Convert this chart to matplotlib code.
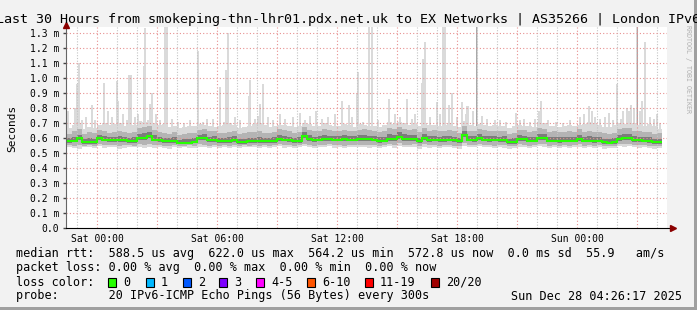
import numpy as np
import matplotlib
matplotlib.use("Agg")
import matplotlib.pyplot as plt
from matplotlib.patches import Rectangle

# ---- data (ms), 15 minute steps starting Fri 22:30 (hour -1.5 relative to Sat 00:00)
step_h = 0.25
start_h = -1.5

med = [0.580, 0.582, 0.598, 0.571, 0.572, 0.571, 0.600, 0.588, 0.587, 0.586,
       0.588, 0.585, 0.578, 0.579, 0.600, 0.602, 0.611, 0.590, 0.586, 0.578,
       0.577, 0.579, 0.569, 0.568, 0.570, 0.575, 0.598, 0.600, 0.587, 0.586,
       0.578, 0.577, 0.580, 0.587, 0.571, 0.572, 0.578, 0.577, 0.579, 0.578,
       0.577, 0.580, 0.592, 0.590, 0.585, 0.578, 0.580, 0.612, 0.592, 0.587,
       0.588, 0.592, 0.591, 0.590, 0.589, 0.591, 0.590, 0.589, 0.591, 0.592,
       0.591, 0.590, 0.580, 0.582, 0.594, 0.593, 0.607, 0.592, 0.591, 0.592,
       0.578, 0.600, 0.587, 0.588, 0.586, 0.587, 0.588, 0.586, 0.578, 0.620,
       0.588, 0.587, 0.600, 0.590, 0.587, 0.588, 0.586, 0.587, 0.571, 0.572,
       0.592, 0.591, 0.582, 0.583, 0.600, 0.598, 0.582, 0.583, 0.581, 0.582,
       0.583, 0.582, 0.594, 0.582, 0.583, 0.581, 0.582, 0.571, 0.570, 0.572,
       0.592, 0.600, 0.601, 0.585, 0.584, 0.582, 0.580, 0.571, 0.572]

lo = [0.540, 0.535, 0.530, 0.538, 0.542, 0.536, 0.545, 0.532, 0.540, 0.538,
      0.528, 0.536, 0.541, 0.537, 0.540, 0.532, 0.538, 0.535, 0.542, 0.536,
      0.530, 0.539, 0.534, 0.540, 0.536, 0.531, 0.541, 0.537, 0.533, 0.540,
      0.536, 0.542, 0.535, 0.538, 0.531, 0.540, 0.537, 0.543, 0.536, 0.539,
      0.534, 0.540, 0.545, 0.536, 0.541, 0.533, 0.538, 0.547, 0.540, 0.535,
      0.541, 0.538, 0.544, 0.536, 0.540, 0.534, 0.542, 0.537, 0.541, 0.539,
      0.536, 0.542, 0.533, 0.539, 0.544, 0.536, 0.548, 0.540, 0.537, 0.543,
      0.530, 0.541, 0.536, 0.540, 0.534, 0.539, 0.542, 0.535, 0.529, 0.546,
      0.538, 0.541, 0.544, 0.537, 0.540, 0.535, 0.539, 0.536, 0.530, 0.534,
      0.542, 0.538, 0.535, 0.540, 0.546, 0.541, 0.533, 0.538, 0.536, 0.540,
      0.534, 0.539, 0.543, 0.536, 0.540, 0.533, 0.537, 0.529, 0.532, 0.535,
      0.544, 0.541, 0.546, 0.538, 0.536, 0.540, 0.534, 0.530, 0.533]

mlo = [0.553, 0.550, 0.556, 0.549, 0.552, 0.548, 0.560, 0.551, 0.554, 0.552,
       0.547, 0.551, 0.553, 0.550, 0.558, 0.556, 0.560, 0.552, 0.555, 0.550,
       0.546, 0.552, 0.547, 0.549, 0.551, 0.548, 0.557, 0.556, 0.550, 0.553,
       0.549, 0.554, 0.550, 0.553, 0.546, 0.551, 0.550, 0.555, 0.549, 0.552,
       0.548, 0.553, 0.560, 0.551, 0.554, 0.547, 0.551, 0.563, 0.556, 0.550,
       0.555, 0.554, 0.558, 0.551, 0.555, 0.550, 0.556, 0.552, 0.555, 0.554,
       0.551, 0.556, 0.548, 0.553, 0.559, 0.552, 0.564, 0.555, 0.552, 0.557,
       0.546, 0.558, 0.551, 0.554, 0.549, 0.553, 0.556, 0.550, 0.545, 0.565,
       0.553, 0.555, 0.560, 0.552, 0.554, 0.550, 0.553, 0.551, 0.545, 0.548,
       0.557, 0.553, 0.549, 0.554, 0.561, 0.557, 0.548, 0.552, 0.550, 0.554,
       0.549, 0.553, 0.558, 0.550, 0.554, 0.548, 0.552, 0.544, 0.546, 0.549,
       0.559, 0.560, 0.562, 0.553, 0.551, 0.554, 0.549, 0.545, 0.547]

dlo = [0.569, 0.571, 0.584, 0.561, 0.562, 0.560, 0.587, 0.577, 0.576, 0.575,
       0.576, 0.574, 0.567, 0.568, 0.588, 0.590, 0.598, 0.578, 0.575, 0.567,
       0.566, 0.568, 0.558, 0.557, 0.559, 0.564, 0.585, 0.588, 0.576, 0.575,
       0.567, 0.566, 0.569, 0.576, 0.560, 0.561, 0.567, 0.566, 0.568, 0.567,
       0.566, 0.569, 0.580, 0.579, 0.574, 0.567, 0.569, 0.598, 0.580, 0.576,
       0.577, 0.580, 0.580, 0.579, 0.578, 0.580, 0.579, 0.578, 0.580, 0.581,
       0.580, 0.579, 0.569, 0.571, 0.582, 0.582, 0.594, 0.581, 0.580, 0.581,
       0.567, 0.588, 0.576, 0.577, 0.575, 0.576, 0.577, 0.575, 0.567, 0.606,
       0.577, 0.576, 0.588, 0.579, 0.576, 0.577, 0.575, 0.576, 0.560, 0.561,
       0.580, 0.580, 0.571, 0.572, 0.588, 0.586, 0.571, 0.572, 0.570, 0.571,
       0.572, 0.571, 0.582, 0.571, 0.572, 0.570, 0.571, 0.560, 0.559, 0.561,
       0.580, 0.588, 0.589, 0.574, 0.573, 0.571, 0.569, 0.560, 0.561]

dhi = [0.600, 0.608, 0.620, 0.592, 0.598, 0.594, 0.622, 0.612, 0.606, 0.610,
       0.614, 0.605, 0.600, 0.604, 0.628, 0.635, 0.640, 0.618, 0.608, 0.600,
       0.598, 0.604, 0.590, 0.592, 0.596, 0.600, 0.622, 0.626, 0.610, 0.612,
       0.600, 0.598, 0.604, 0.612, 0.592, 0.596, 0.600, 0.602, 0.606, 0.600,
       0.598, 0.606, 0.620, 0.616, 0.610, 0.600, 0.606, 0.640, 0.618, 0.610,
       0.612, 0.620, 0.616, 0.614, 0.612, 0.618, 0.614, 0.612, 0.618, 0.620,
       0.616, 0.614, 0.604, 0.610, 0.626, 0.622, 0.638, 0.624, 0.618, 0.622,
       0.602, 0.628, 0.612, 0.614, 0.610, 0.612, 0.616, 0.610, 0.602, 0.645,
       0.614, 0.612, 0.626, 0.616, 0.612, 0.614, 0.610, 0.612, 0.594, 0.598,
       0.618, 0.616, 0.606, 0.608, 0.628, 0.624, 0.606, 0.608, 0.604, 0.606,
       0.608, 0.606, 0.620, 0.606, 0.610, 0.604, 0.606, 0.596, 0.594, 0.598,
       0.620, 0.628, 0.630, 0.612, 0.610, 0.606, 0.604, 0.594, 0.596]

hi = [0.630, 0.645, 0.657, 0.625, 0.637, 0.633, 0.653, 0.647, 0.635, 0.643,
      0.649, 0.637, 0.631, 0.640, 0.665, 0.673, 0.677, 0.651, 0.641, 0.633,
      0.629, 0.637, 0.623, 0.627, 0.633, 0.635, 0.655, 0.661, 0.645, 0.649,
      0.635, 0.631, 0.639, 0.647, 0.625, 0.631, 0.637, 0.641, 0.645, 0.635,
      0.631, 0.641, 0.657, 0.653, 0.645, 0.635, 0.641, 0.675, 0.653, 0.645,
      0.647, 0.657, 0.651, 0.649, 0.645, 0.655, 0.649, 0.645, 0.653, 0.657,
      0.651, 0.649, 0.639, 0.647, 0.665, 0.661, 0.675, 0.661, 0.653, 0.659,
      0.637, 0.665, 0.647, 0.651, 0.645, 0.649, 0.653, 0.645, 0.635, 0.681,
      0.649, 0.647, 0.663, 0.653, 0.647, 0.649, 0.645, 0.647, 0.627, 0.633,
      0.655, 0.651, 0.641, 0.645, 0.665, 0.661, 0.641, 0.645, 0.639, 0.641,
      0.645, 0.641, 0.657, 0.641, 0.647, 0.639, 0.641, 0.631, 0.629, 0.633,
      0.657, 0.665, 0.669, 0.647, 0.645, 0.641, 0.639, 0.629, 0.631]

top = [0.668, 0.690, 0.700, 0.660, 0.676, 0.670, 0.690, 0.700, 0.684, 0.695,
       0.700, 0.680, 0.672, 0.688, 0.715, 0.706, 0.722, 0.700, 0.684, 0.695,
       0.676, 0.682, 0.668, 0.672, 0.678, 0.680, 0.695, 0.690, 0.678, 0.672,
       0.680, 0.686, 0.698, 0.684, 0.668, 0.672, 0.678, 0.692, 0.702, 0.684,
       0.672, 0.680, 0.690, 0.686, 0.678, 0.672, 0.678, 0.700, 0.692, 0.678,
       0.680, 0.702, 0.686, 0.680, 0.678, 0.690, 0.688, 0.676, 0.692, 0.686,
       0.682, 0.678, 0.672, 0.688, 0.706, 0.692, 0.710, 0.700, 0.690, 0.696,
       0.678, 0.698, 0.684, 0.690, 0.680, 0.686, 0.700, 0.680, 0.676, 0.712,
       0.686, 0.680, 0.696, 0.688, 0.680, 0.684, 0.678, 0.680, 0.668, 0.678,
       0.690, 0.680, 0.678, 0.676, 0.704, 0.698, 0.678, 0.680, 0.674, 0.678,
       0.684, 0.678, 0.690, 0.696, 0.704, 0.700, 0.686, 0.672, 0.676, 0.690,
       0.700, 0.696, 0.710, 0.702, 0.690, 0.682, 0.696, 0.678, 0.662]

# single-ping spikes (hour, max rtt ms)
spk_hour = [-1.475, -1.1, -1.0, -0.925, -0.25, 0.325, 0.35, 1.0, 1.05, 1.6, 1.7,
            2.35, 2.4, 2.65, 2.75, 3.4, 3.5, 3.75, 5.05, 6.125, 6.45, 6.55,
            7.6, 7.65, 8.15, 8.3, 10.15, 10.95, 12.225, 12.575, 13.0, 13.05,
            13.6, 13.75, 14.6, 15.5, 16.225, 16.3, 16.4, 16.975, 17.3, 17.4,
            17.75, 18.225, 18.525, 18.8, 18.975, 20.95, 22.1, 22.2, 24.575,
            24.75, 25.6, 26.0, 26.5, 26.7, 26.85, 27.0, 27.25, 27.375, 28.0]
spk_top = [0.78, 0.80, 0.96, 1.10, 0.82, 0.97, 0.84, 0.98, 0.85, 1.02, 1.02,
           1.08, 1.33, 0.83, 0.90, 1.34, 1.34, 0.73, 1.18, 0.94, 1.05, 1.30,
           0.88, 0.99, 0.83, 0.96, 0.77, 0.78, 0.85, 0.82, 0.90, 1.04,
           1.34, 1.34, 0.86, 0.86, 0.97, 1.13, 1.24, 0.84, 1.34, 1.34,
           0.90, 0.84, 0.81, 0.78, 1.34, 0.77, 0.78, 0.85, 0.81,
           0.78, 0.77, 0.96, 0.80, 0.82, 0.80, 1.34, 0.85, 1.24, 0.76]
# smaller spikes that make the ragged top of the smoke
mod_hour = [-0.75, -0.55, -0.1, 0.55, 0.75, 1.3, 1.5, 1.9, 2.05, 2.95, 3.15,
            4.05, 4.35, 4.65, 5.3, 5.5, 5.8, 6.35, 6.9, 7.15, 7.9, 8.05, 8.55,
            8.8, 9.15, 9.4, 9.8, 10.4, 10.65, 11.25, 11.55, 11.9, 12.75, 13.3,
            14.05, 14.9, 15.15, 15.75, 15.9, 16.65, 17.15, 17.6, 18.0, 18.45,
            19.25, 19.5, 19.9, 20.15, 20.45, 21.15, 21.35, 21.65, 21.9, 22.55,
            22.95, 23.3, 23.65, 24.15, 24.35, 24.9, 25.15, 25.4, 25.8, 26.2,
            26.3, 26.6, 27.15, 27.65, 27.85, 28.15]
mod_top = [0.72, 0.74, 0.72, 0.78, 0.74, 0.76, 0.72, 0.74, 0.76, 0.76, 0.72,
           0.71, 0.70, 0.72, 0.71, 0.73, 0.73, 0.71, 0.74, 0.72, 0.73, 0.75, 0.74,
           0.72, 0.76, 0.73, 0.74, 0.72, 0.75, 0.73, 0.74, 0.76, 0.74, 0.71,
           0.72, 0.76, 0.74, 0.73, 0.76, 0.74, 0.76, 0.82, 0.74, 0.76,
           0.75, 0.73, 0.72, 0.72, 0.71, 0.72, 0.73, 0.71, 0.73, 0.72,
           0.71, 0.70, 0.72, 0.74, 0.76, 0.74, 0.73, 0.74, 0.72, 0.73,
           0.78, 0.78, 0.78, 0.74, 0.73, 0.70]
# steps where several pings were high (darker spike core)
core_hour = [18.975, 27.0]
core_top = [1.34, 1.34]

loss_labels = ["0", "1", "2", "3", "4-5", "6-10", "11-19", "20/20"]
loss_colors = ["#26ff00", "#00b8ff", "#0059ff", "#7e00ff", "#ff00ff",
               "#ff5500", "#ff0000", "#a00000"]

title = "Last 30 Hours from smokeping-thn-lhr01.pdx.net.uk to EX Networks | AS35266 | London IPv6"
xtick_hours = [0, 6, 12, 18, 24]
xtick_labels = ["Sat 00:00", "Sat 06:00", "Sat 12:00", "Sat 18:00", "Sun 00:00"]

# ---- figure
W, H = 697, 310
mono = "DejaVu Sans Mono"
plt.rcParams["font.family"] = mono

fig = plt.figure(figsize=(W / 100, H / 100), dpi=100, facecolor="#f2f2f2")
ax = fig.add_axes([66 / W, (H - 228) / H, 601 / W, 201 / H])
ax.set_facecolor("white")

med = np.array(med)
lo, mlo, dlo, dhi, hi, top = map(np.array, (lo, mlo, dlo, dhi, hi, top))
t = start_h + step_h * np.arange(len(med))

# smoke
light = "#dadada"
ax.bar(spk_hour, np.array(spk_top) - 0.6, bottom=0.6, width=0.1,
       color=light, linewidth=0, zorder=1)
ax.bar(mod_hour, np.array(mod_top) - 0.6, bottom=0.6, width=0.12,
       color=light, linewidth=0, zorder=1)
ax.bar(core_hour, np.array(core_top) - 0.6, bottom=0.6, width=0.05,
       color="#a8a8a8", linewidth=0, zorder=1)
ax.bar(t, top - lo, bottom=lo, width=step_h, align="edge",
       color=light, linewidth=0, zorder=1)
ax.bar(t, hi - mlo, bottom=mlo, width=step_h, align="edge",
       color="#b4b4b4", linewidth=0, zorder=1.1)
ax.bar(t, dhi - dlo, bottom=dlo, width=step_h, align="edge",
       color="#7c7c7c", linewidth=0, zorder=1.2)

# median line
edges = start_h + step_h * np.arange(len(med) + 1)
ax.stairs(med, edges, color="#26ff00", linewidth=1.5, baseline=None, zorder=3)

# axes limits and grid
ax.set_xlim(-1.55, 28.5)
ax.set_ylim(0, 1.34)

for h in range(-1, 29):
    if h % 3 == 0:
        ax.axvline(h, color="#e89090", lw=0.8, ls=(0, (1, 2)), zorder=2)
    else:
        ax.axvline(h, color="#c4c4c4", lw=0.8, ls=(0, (1, 1.5)), zorder=2)
yt = np.round(np.arange(0.1, 1.31, 0.1), 1)
for v in yt:
    ax.axhline(v, color="#e89090", lw=0.8, ls=(0, (1, 2)), zorder=2)

ax.set_yticks(np.round(np.arange(0, 1.31, 0.1), 1))
ax.set_yticklabels(["0.0"] + [f"{v:.1f} m" for v in yt])
ax.set_xticks(xtick_hours)
ax.set_xticklabels(xtick_labels)
ax.tick_params(axis="y", length=2, width=1, color="#444444", pad=3,
               labelsize=7, labelcolor="black")
ax.tick_params(axis="x", length=0, pad=4.5, labelsize=7, labelcolor="black")

for s in ("top", "right"):
    ax.spines[s].set_visible(False)
ax.spines["left"].set_color("#666666")
ax.spines["bottom"].set_color("black")
ax.spines["bottom"].set_bounds(-1.55, 28.8)

# axis arrows
ax.plot([28.8], [0], marker=">", color="#8b0000", markersize=5, clip_on=False, zorder=5)
ax.plot([-1.55], [1.355], marker="^", color="#8b0000", markersize=5, clip_on=False, zorder=5)

# titles
fig.text(348.5 / W, 1 - 19 / H, title, ha="center", va="center", fontsize=9.6)
fig.text(12 / W, 1 - 128 / H, "Seconds", rotation=90, ha="center", va="center", fontsize=8)
fig.text(688 / W, 1 - 25 / H, "RRDTOOL / TOBI OETIKER", rotation=270, ha="center",
         va="top", fontsize=4.8, color="#b0b0b0")

# legend rows
fs = 8.5
rows = [
    (254, "median rtt:  588.5 us avg  622.0 us max  564.2 us min  572.8 us now  0.0 ms sd  55.9   am/s"),
    (268, "packet loss: 0.00 % avg  0.00 % max  0.00 % min  0.00 % now"),
    (282, "loss color:"),
    (296, "probe:       20 IPv6-ICMP Echo Pings (56 Bytes) every 300s"),
]
for y, s in rows:
    fig.text(16 / W, 1 - y / H, s, ha="left", va="center", fontsize=fs)
fig.text(682 / W, 1 - 296 / H, "Sun Dec 28 04:26:17 2025", ha="right", va="center", fontsize=fs)

box_x = [108, 146, 183, 219, 256, 307, 365, 431]
for bx, lab, col in zip(box_x, loss_labels, loss_colors):
    fig.add_artist(Rectangle((bx / W, 1 - 286.5 / H), 8 / W, 9 / H,
                             transform=fig.transFigure, facecolor=col,
                             edgecolor="black", linewidth=0.8))
    fig.text((bx + 15) / W, 1 - 282 / H, lab, ha="left", va="center", fontsize=fs)

# 3d frame of the image
fig.add_artist(Rectangle((694 / W, 0), 3 / W, 1, transform=fig.transFigure,
                         facecolor="#a0a0a0", edgecolor="none"))
fig.add_artist(Rectangle((0, 0), 1, 3 / H, transform=fig.transFigure,
                         facecolor="#a0a0a0", edgecolor="none"))

fig.savefig("out.png", dpi=100, facecolor=fig.get_facecolor())
